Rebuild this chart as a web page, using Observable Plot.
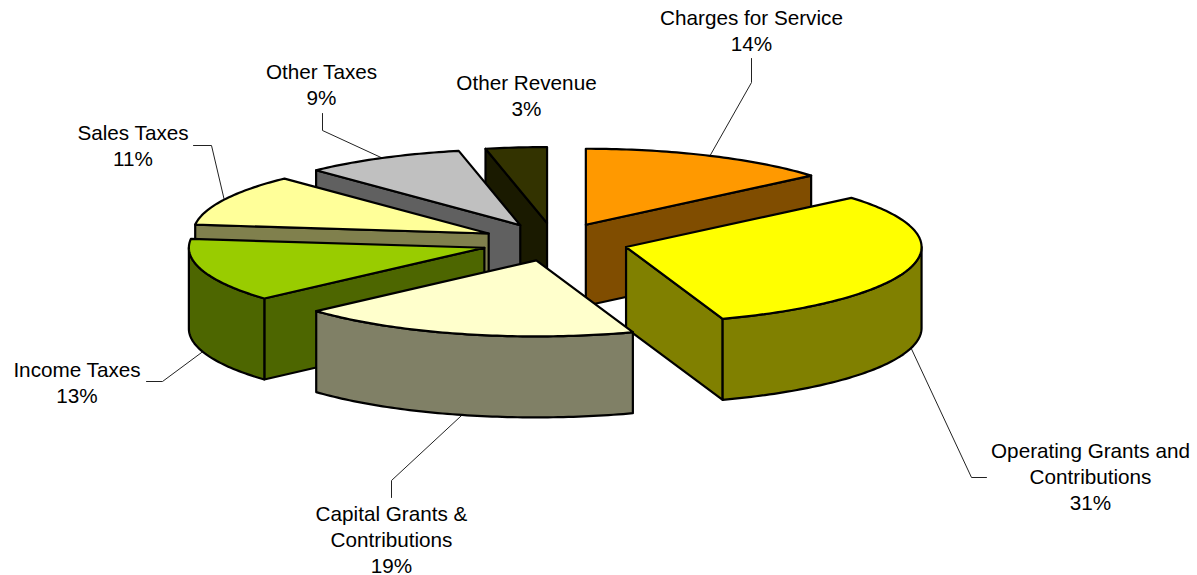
<!DOCTYPE html>
<html>
<head>
<meta charset="utf-8">
<script src="https://cdn.jsdelivr.net/npm/d3@7"></script>
<script src="https://cdn.jsdelivr.net/npm/@observablehq/plot@0.6"></script>
<style>
html,body{margin:0;padding:0;background:#fff}
svg{display:block}
</style>
</head>
<body>
<div id="chart"></div>
<script>
// Data, clockwise from 12 o'clock
const categories = ["Charges for Service","Operating Grants and\nContributions","Capital Grants &\nContributions","Income Taxes","Sales Taxes","Other Taxes","Other Revenue"];
const shares = [13.8,30.9,18.67,13.49,11.0,8.8,3.34];

// Styles
const topColors  = ["#FF9900","#FFFF00","#FFFFCC","#99CC00","#FFFF99","#C0C0C0","#333300"];
const sideColors = ["#804D00","#808000","#808066","#4D6600","#80804D","#606060","#1A1A00"];
// Back-to-front paint order (slice indexes)
const paintOrder = [6,5,4,3,0,1,2];

// 3-D pie projection
const W = 1197, H = 575;
const cx = 554.3, cy = 241.5, rx = 295.5, ry = 76, depth = 81, explode = 0.25;

// Label layout: text position, then leader elbow points running out from the slice
const labelAt = [[751,29],[1090,475],[391,538],[76.5,381],[132.5,144],[321,83],[526,94]];
const elbows = [
  [[751,82],[751,58]],
  [[971,477],[986,477]],
  [[391,480],[391,497]],
  [[162,381],[146,381]],
  [[211,145],[193,145]],
  [[322,130],[322,113]],
  []
];

const rad = d => d * Math.PI / 180;
let acc = 0;
const slices = shares.map((v, i) => {
  const a0 = acc * 3.6; acc += v; const a1 = acc * 3.6;
  const mid = (a0 + a1) / 2;
  const ax = cx + explode * rx * Math.sin(rad(mid));
  const ay = cy - explode * ry * Math.cos(rad(mid));
  const rim = (a) => [ax + rx * Math.sin(rad(a)), ay - ry * Math.cos(rad(a))];
  return {i, a0, a1, mid, ax, ay, rim};
});
const arc = (s, a0, a1) => {
  const n = Math.max(2, Math.ceil(a1 - a0));
  return d3.range(n + 1).map(k => s.rim(a0 + (a1 - a0) * k / n));
};
const down = ([x, y]) => [x, y + depth];

const polys = [];
const add = (pts, fill) => {
  const id = polys.length ? polys[polys.length - 1].id + 1 : 0;
  pts.forEach(([x, y]) => polys.push({id, x, y, fill}));
};
for (const idx of paintOrder) {
  const s = slices[idx], A = [s.ax, s.ay], side = sideColors[idx];
  if (Math.sin(rad(s.a0)) < -1e-6) { // start wall faces viewer
    const P = s.rim(s.a0);
    add([A, P, down(P), down(A)], side);
  }
  if (Math.sin(rad(s.a1)) > 1e-6) { // end wall faces viewer
    const P = s.rim(s.a1);
    add([A, P, down(P), down(A)], side);
  }
  const f0 = Math.max(s.a0, 90), f1 = Math.min(s.a1, 270);
  if (f1 > f0) { // curved outer wall
    const c = arc(s, f0, f1);
    add([...c, ...c.slice().reverse().map(down)], side);
  }
  add([A, ...arc(s, s.a0, s.a1)], topColors[idx]);
}

const leaders = slices.flatMap((s, i) => {
  if (!elbows[i].length) return [];
  const p = s.rim(s.mid);
  const start = Math.cos(rad(s.mid)) < 0 ? down(p) : p;
  return [start, ...elbows[i]].map(([x, y]) => ({i, x, y}));
});

const labels = categories.map((c, i) => ({
  text: `${c}\n${Math.round(shares[i])}%`,
  x: labelAt[i][0], y: labelAt[i][1]
}));

const chart = Plot.plot({
  width: W, height: H,
  marginTop: 0, marginRight: 0, marginBottom: 0, marginLeft: 0,
  x: {domain: [0, W], range: [0, W], axis: null},
  y: {domain: [0, H], range: [0, H], axis: null},
  color: {type: "identity"},
  style: {background: "#fff"},
  marks: [
    Plot.line(leaders, {x: "x", y: "y", z: "i", stroke: "#222", strokeWidth: 1, curve: "linear"}),
    Plot.line(polys, {x: "x", y: "y", z: "id", fill: "fill", stroke: "#000", strokeWidth: 2.2, strokeLinejoin: "round", curve: "linear-closed"}),
    Plot.text(labels, {x: "x", y: "y", text: "text", fontSize: 20.7, lineHeight: 1.256, fill: "#000", fontFamily: "Liberation Sans, Arial, sans-serif", textAnchor: "middle", lineAnchor: "middle"})
  ]
});
document.getElementById("chart").appendChild(chart);
</script>
</body>
</html>
